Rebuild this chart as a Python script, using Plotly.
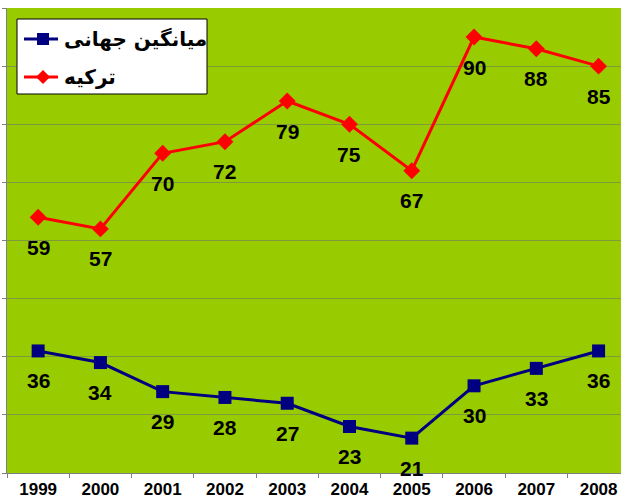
import plotly.graph_objects as go

years = ["1999", "2000", "2001", "2002", "2003", "2004", "2005", "2006", "2007", "2008"]
world_avg = [36, 34, 29, 28, 27, 23, 21, 30, 33, 36]
turkey = [59, 57, 70, 72, 79, 75, 67, 90, 88, 85]
series_names = ["میانگین جهانی", "ترکیه"]

W, H = 621, 500
ML, MR, MT, MB = 7, 0, 8, 27

def px(x):
    return (x - ML) / (W - ML - MR)

def py(y):
    return (H - MB - y) / (H - MT - MB)

fig = go.Figure()
fig.add_trace(go.Scatter(x=years, y=world_avg, mode="lines+markers", name=series_names[0],
                         line=dict(color="#000080", width=3),
                         marker=dict(symbol="square", size=13, color="#000080"),
                         showlegend=False))
fig.add_trace(go.Scatter(x=years, y=turkey, mode="lines+markers", name=series_names[1],
                         line=dict(color="#FF0000", width=3),
                         marker=dict(symbol="diamond", size=13, color="#FF0000"),
                         showlegend=False))

annotations = []
lab_font = dict(family="Liberation Sans, Arial, sans-serif", size=21, color="black")
for series in (world_avg, turkey):
    for i, v in enumerate(series):
        annotations.append(dict(x=i, y=v, xref="x", yref="y", text="<b>%d</b>" % v,
                                showarrow=False, yshift=-30, font=lab_font))

# custom legend (symbol left of RTL text)
shapes = []
shapes.append(dict(type="rect", xref="paper", yref="paper", x0=px(17), x1=px(207),
                   y0=py(94), y1=py(19), fillcolor="white", line=dict(color="black", width=1)))
rows = [(39, "#000080", "square", series_names[0]), (77, "#FF0000", "diamond", series_names[1])]
for yy, col, sym, name in rows:
    shapes.append(dict(type="line", xref="paper", yref="paper", x0=px(24), x1=px(58),
                       y0=py(yy), y1=py(yy), line=dict(color=col, width=3)))
    cx = 43
    if sym == "square":
        shapes.append(dict(type="rect", xref="paper", yref="paper", x0=px(cx - 6), x1=px(cx + 6),
                           y0=py(yy + 6), y1=py(yy - 6), fillcolor=col, line=dict(width=0)))
    else:
        d = 7
        path = "M %f %f L %f %f L %f %f L %f %f Z" % (
            px(cx), py(yy - d), px(cx + d), py(yy), px(cx), py(yy + d), px(cx - d), py(yy))
        shapes.append(dict(type="path", xref="paper", yref="paper", path=path,
                           fillcolor=col, line=dict(width=0)))
    annotations.append(dict(x=px(62), y=py(yy), xref="paper", yref="paper", text="<b>%s</b>" % name,
                            showarrow=False, xanchor="left", yanchor="middle",
                            font=dict(family="DejaVu Sans, sans-serif", size=20, color="black")))

fig.update_layout(
    width=W, height=H, autosize=False,
    margin=dict(l=ML, r=MR, t=MT, b=MB, pad=0),
    paper_bgcolor="white", plot_bgcolor="#99CC00",
    shapes=shapes, annotations=annotations,
    xaxis=dict(type="category", range=[-0.5, 9.36], showgrid=False, tickson="boundaries",
               ticks="outside", ticklen=4, tickcolor="#808080", showline=True, linecolor="#808080",
               linewidth=1, tickfont=dict(family="Liberation Sans, Arial, sans-serif", size=17, color="black"),
               tickprefix="<b>", ticksuffix="</b>", zeroline=False, ticklabelstandoff=1,
               automargin=False),
    yaxis=dict(range=[15, 95], tick0=15, dtick=10, showgrid=True, gridcolor="#7f9a3a", gridwidth=1,
               showticklabels=False, ticks="outside", ticklen=4, tickcolor="#808080",
               showline=True, linecolor="#808080", linewidth=1, zeroline=False, automargin=False),
)

fig.write_html("out.html", config={"displayModeBar": False},
               post_script="document.body.style.margin='0';document.body.style.overflow='hidden';")
